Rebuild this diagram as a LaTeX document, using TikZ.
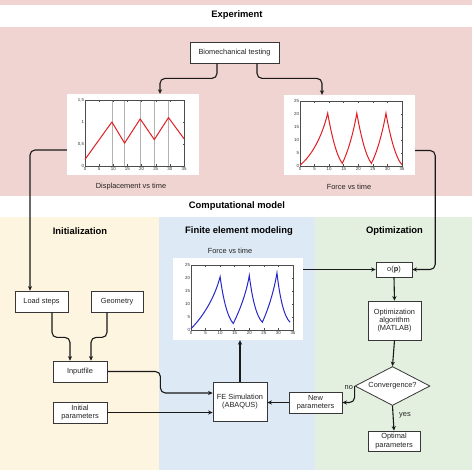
\documentclass[tikz,border=0pt]{standalone}
\usepackage{fontspec}
\setmainfont{Liberation Sans}
\usetikzlibrary{shapes.geometric,arrows.meta,calc}
\definecolor{pinkbg}{RGB}{240,212,209}
\definecolor{yellowbg}{RGB}{253,245,224}
\definecolor{bluebg}{RGB}{221,233,245}
\definecolor{greenbg}{RGB}{227,239,223}
\definecolor{boxline}{RGB}{55,55,55}
\definecolor{textc}{RGB}{35,35,35}
\definecolor{connc}{RGB}{25,25,25}
\definecolor{redline}{RGB}{225,30,35}
\definecolor{blueline}{RGB}{40,40,200}
\newcommand\boxfont{\fontsize{7.4}{8.4}\selectfont}
\newcommand\ttlfont{\fontsize{9.4}{11}\selectfont\bfseries}
\newcommand\tickfont{\fontsize{4.4}{5}\selectfont}
\tikzset{
  box/.style={draw=boxline, line width=0.8pt, fill=white, text=textc, font=\boxfont, align=center, inner sep=1pt},
  conn/.style={draw=connc, line width=1.1pt, rounded corners=5pt, -{Stealth[length=4.5pt,width=4.2pt]}},
  ttl/.style={font=\ttlfont, text=black},
  txt/.style={font=\boxfont, text=textc},
  plotbg/.style={fill=white, draw=none, inner sep=0pt},
  tl/.style={font=\tickfont, text=black!80, inner sep=0.8pt},
  frame/.style={draw=black!70, line width=0.45pt},
}
\begin{document}
\begin{tikzpicture}[x=1pt,y=-1pt]
\useasboundingbox (0,0) rectangle (474,475);
% backgrounds
\fill[pinkbg] (0,0) rectangle (472,5);
\fill[pinkbg] (0,27) rectangle (472,196);
\fill[yellowbg] (0,217) rectangle (159,470);
\fill[bluebg] (159,217) rectangle (315,470);
\fill[greenbg] (315,217) rectangle (472,470);
% titles
\node[ttl] (texp) at (237,15) {Experiment};
\node[ttl] (tcomp) at (237,206) {Computational model};
\node[ttl] (tinit) at (80,231) {Initialization};
\node[ttl] (tfem) at (239,231) {Finite element modeling};
\node[ttl] (topt) at (394.5,231) {Optimization};

% experiment
\node[box, minimum width=89pt, minimum height=21pt] (bio) at (234.5,52.5) {Biomechanical testing};
\node[plotbg, minimum width=132pt, minimum height=81pt] (p1) at (133,134.5) {};
\node[txt] (c1) at (131,187) {Displacement vs time};
\node[plotbg, minimum width=131pt, minimum height=80pt] (p2) at (349.5,135) {};
\node[txt] (c2) at (349,187) {Force vs time};

% displacement plot
\begin{scope}[shift={(85,166)}, x=2.829pt, y=44pt]
  \foreach \t in {9.5,14,19.5,24.5,29.5} \draw[black!30, line width=0.45pt] (\t,0) -- (\t,1.5);
  \draw[frame] (0,0) rectangle (35,1.5);
  \foreach \t in {0,5,...,35} {
    \draw[frame] (\t,0) -- ++(0,0.04);
    \draw[frame] (\t,1.5) -- ++(0,-0.04);
    \node[tl, below] at (\t,0) {\t};
  }
  \foreach \v/\l in {0/0,0.5/{0,5},1/1,1.5/{1,5}} {
    \draw[frame] (0,\v) -- ++(0.5,0);
    \draw[frame] (35,\v) -- ++(-0.5,0);
    \node[tl, left] at (0,\v) {\l};
  }
  \draw[redline, line width=1pt, line join=round] (0,0.15) -- (9.5,1) -- (14,0.52) -- (19.5,1.07) -- (24.5,0.6) -- (29.5,1.1) -- (35,0.62);
\end{scope}

% force plot (experiment)
\begin{scope}[shift={(300,166)}, x=2.914pt, y=2.6pt]
  \draw[frame] (0,0) rectangle (35,25);
  \foreach \t in {0,5,...,35} {
    \draw[frame] (\t,0) -- ++(0,0.7);
    \draw[frame] (\t,25) -- ++(0,-0.7);
    \node[tl, below] at (\t,0) {\t};
  }
  \foreach \v in {0,5,...,25} {
    \draw[frame] (0,\v) -- ++(0.5,0);
    \draw[frame] (35,\v) -- ++(-0.5,0);
    \node[tl, left] at (0,\v) {\v};
  }
  \draw[redline, line width=1pt] (0,0.3) .. controls (4,4) and (7.5,11) .. (9.5,20.3)
     .. controls (10.8,12) and (12.5,4) .. (14.5,1)
     .. controls (16.3,5) and (18.2,12) .. (19.5,20.3)
     .. controls (20.8,12) and (22.5,4) .. (24.5,1)
     .. controls (26.3,5) and (28.2,12) .. (29.5,20.3)
     .. controls (30.8,12) and (32.8,3) .. (35,0.5);
\end{scope}

% FE plot
\node[txt] (c3) at (230,251) {Force vs time};
\node[plotbg, minimum width=130pt, minimum height=82pt] (p3) at (238,299) {};
\begin{scope}[shift={(191,330)}, x=2.914pt, y=2.6pt]
  \draw[frame] (0,0) rectangle (35,25);
  \foreach \t in {0,5,...,35} {
    \draw[frame] (\t,0) -- ++(0,0.7);
    \draw[frame] (\t,25) -- ++(0,-0.7);
    \node[tl, below] at (\t,0) {\t};
  }
  \foreach \v in {0,5,...,25} {
    \draw[frame] (0,\v) -- ++(0.5,0);
    \draw[frame] (35,\v) -- ++(-0.5,0);
    \node[tl, left] at (0,\v) {\v};
  }
  \draw[blueline, line width=1pt] (0,0.5) .. controls (4,5) and (8,12) .. (10,20.5)
     .. controls (11,12) and (12.5,5) .. (14.5,2.5)
     .. controls (16.5,7) and (19,14) .. (20,21)
     .. controls (21,12) and (22.5,5) .. (24.5,3)
     .. controls (26.5,8) and (28.5,15) .. (29.5,22)
     .. controls (30.5,12) and (32,5) .. (34,3);
\end{scope}

% initialization boxes
\node[box, minimum width=53pt, minimum height=21pt] (load) at (41.5,301.5) {Load steps};
\node[box, minimum width=52pt, minimum height=21pt] (geo) at (117,301.5) {Geometry};
\node[box, minimum width=54pt, minimum height=21pt] (inp) at (80,371.5) {Inputfile};
\node[box, minimum width=54pt, minimum height=21pt] (init) at (80,412.5) {Initial\\parameters};

% FE
\node[box, minimum width=54pt, minimum height=39pt] (fe) at (240,401.5) {FE Simulation\\(ABAQUS)};

% optimization
\node[box, minimum width=36pt, minimum height=15pt] (op) at (394,269.5) {o(\textbf{p})};
\node[box, minimum width=53pt, minimum height=39pt] (alg) at (394.5,320.5) {Optimization\\algorithm\\(MATLAB)};
\node[box, diamond, aspect=1.9, minimum width=75pt, minimum height=39pt, inner sep=0.5pt] (conv) at (392.5,386) {Convergence?};
\node[box, minimum width=53pt, minimum height=21pt] (newp) at (315.5,402.5) {New\\parameters};
\node[box, minimum width=52pt, minimum height=20pt] (optp) at (394,441) {Optimal\\parameters};
\node[txt, anchor=south east, inner sep=1pt] (lno) at ([xshift=-0.5pt,yshift=-4.5pt]conv.west) {no};
\node[txt, anchor=west, inner sep=1pt] (lyes) at (398,415) {yes};

% connectors
\draw[conn] ([xshift=-17.5pt]bio.south) -- ++(0,15) -| ([xshift=27pt]p1.north);
\draw[conn] ([xshift=22.5pt]bio.south) -- ++(0,15) -| ([xshift=-27.5pt]p2.north);
\draw[conn] ([yshift=-15.5pt]p1.west) -| ([xshift=-11.5pt]load.north);
\draw[conn] ([yshift=-15.5pt]p2.east) -- ++(20,0) |- (op.east);
\draw[conn] (p3.east |- op.west) -- (op.west);
\draw[conn] ([xshift=10.5pt]load.south) -- ++(0,25) -| ([xshift=-10pt]inp.north);
\draw[conn] ([xshift=-10pt]geo.south) -- ++(0,25) -| ([xshift=11pt]inp.north);
\draw[conn] (inp.east) -- ++(53,0) |- ([yshift=8.5pt]fe.west);
\draw[conn] (init.east) -- (fe.west |- init.east);
\draw[conn] (fe.north) -- (fe.north |- p3.south);
\draw[conn] (newp.west) -- (fe.east |- newp.west);
\draw[conn] (conv.west) |- (newp.east);
\draw[conn] (op.south) -- (alg.north);
\draw[conn] (alg.south) -- (conv.north);
\draw[conn] (conv.south) -- (optp.north);
\end{tikzpicture}
\end{document}
